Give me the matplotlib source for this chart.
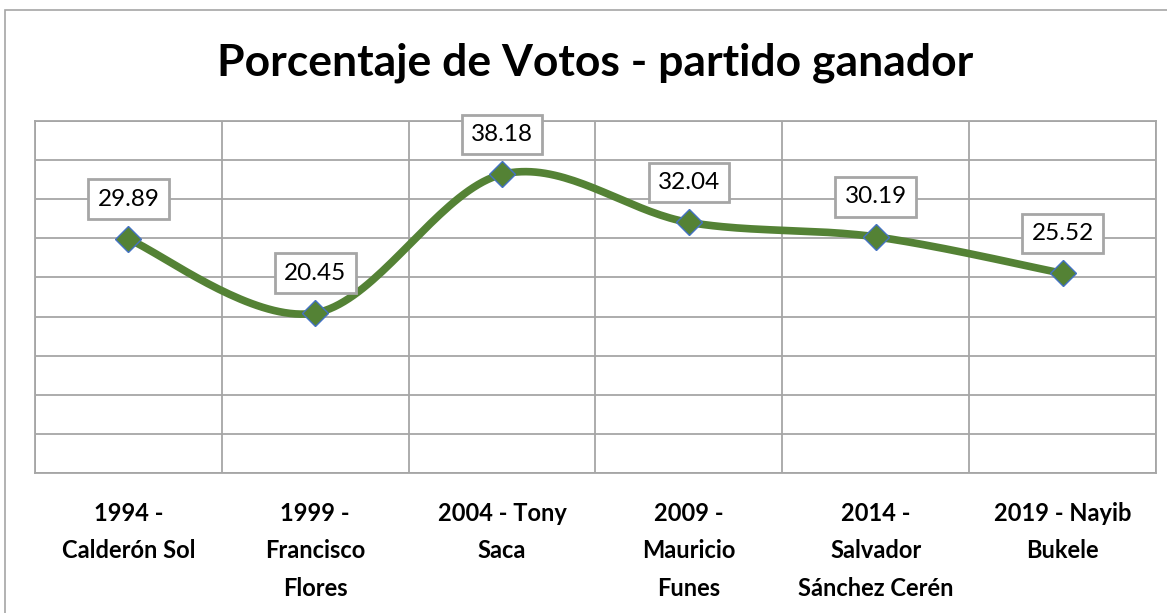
import numpy as np
import matplotlib
matplotlib.use("Agg")
import matplotlib.pyplot as plt
from matplotlib.patches import Rectangle

plt.rcParams['font.family'] = ['Lato', 'DejaVu Sans']

# data
categories = ["1994 -\nCalderón Sol", "1999 -\nFrancisco\nFlores", "2004 - Tony\nSaca",
              "2009 -\nMauricio\nFunes", "2014 -\nSalvador\nSánchez Cerén", "2019 - Nayib\nBukele"]
votes = [29.89, 20.45, 38.18, 32.04, 30.19, 25.52]

W, H = 1167, 613
fig = plt.figure(figsize=(W / 100, H / 100), dpi=100)
fig.patch.set_facecolor('white')

# outer chart frame (cut off at right and bottom)
fig.patches.append(Rectangle((5 / W, -0.1), 1.2, 1 - 10 / H + 0.1, transform=fig.transFigure,
                             fill=False, ec='#a6a6a6', lw=1.2))

ax = fig.add_axes([35 / W, 1 - 473 / H, (1156 - 35) / W, (473 - 121) / H])
ax.set_xlim(-0.5, len(votes) - 0.5)
ax.set_ylim(0, 45)
ax.set_yticks(np.arange(0, 46, 5))
ax.set_yticklabels([])
ax.tick_params(axis='y', length=0)
ax.set_xticks(range(len(categories)))
ax.set_xticklabels(categories, fontweight='bold', fontsize=17, linespacing=1.75)
ax.tick_params(axis='x', length=0, pad=21)
ax.set_xticks(np.arange(-0.5, len(votes), 1), minor=True)
ax.tick_params(axis='x', which='minor', length=0)
ax.grid(axis='y', which='major', color='#a6a6a6', lw=1.3)
ax.grid(axis='x', which='minor', color='#a6a6a6', lw=1.3)
for s in ax.spines.values():
    s.set_color('#a6a6a6')
    s.set_linewidth(1.3)

# smoothed line (Catmull-Rom, like Excel's smoothed line)
x = np.arange(len(votes), dtype=float)
y = np.array(votes)
px = np.concatenate([[x[0]], x, [x[-1]]])
py = np.concatenate([[y[0]], y, [y[-1]]])
sx, sy = [], []
t = np.linspace(0, 1, 40)
k = 1 / 6
for i in range(1, len(px) - 2):
    p0, p1, p2, p3 = [np.array([px[j], py[j]]) for j in range(i - 1, i + 3)]
    c1 = p1 + (p2 - p0) * k
    c2 = p2 - (p3 - p1) * k
    b = ((1 - t) ** 3)[:, None] * p1 + (3 * (1 - t) ** 2 * t)[:, None] * c1 \
        + (3 * (1 - t) * t ** 2)[:, None] * c2 + (t ** 3)[:, None] * p2
    sx.extend(b[:, 0])
    sy.extend(b[:, 1])
ax.plot(sx, sy, color='#548235', lw=5.5, solid_capstyle='round', zorder=3)
ax.plot(x, y, ls='none', marker='D', ms=13.5, mfc='#548235', mec='#4472c4', mew=1, zorder=4)

for i, v in enumerate(votes):
    ax.annotate(f"{v:.2f}", (i, v), xytext=(0, 40), textcoords='offset pixels',
                ha='center', va='center', fontsize=17.5, zorder=5,
                bbox=dict(boxstyle='square,pad=0.38', fc='white', ec='#a6a6a6', lw=2))

fig.text(595 / W, 1 - 63 / H, "Porcentaje de Votos - partido ganador", ha='center', va='center',
         fontsize=32, fontweight='bold')

fig.savefig('out.png', dpi=100)
